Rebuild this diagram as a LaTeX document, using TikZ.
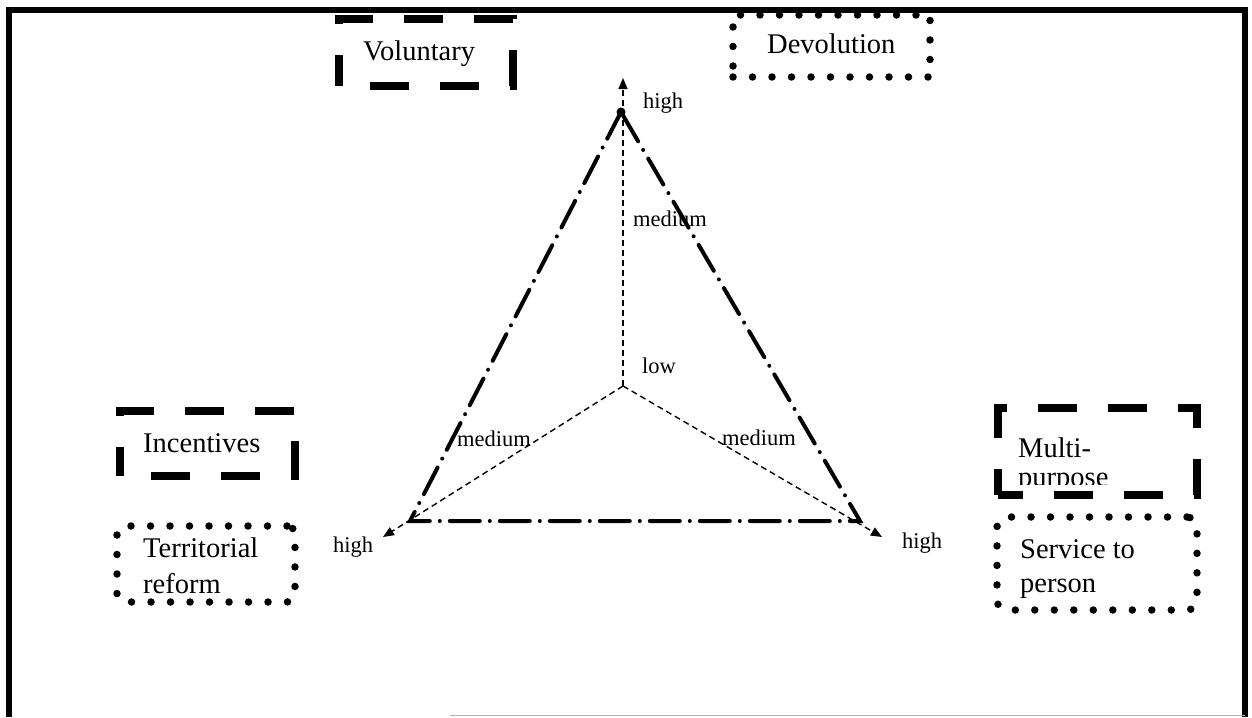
\documentclass[tikz,border=0pt]{standalone}
\usepackage{fontspec}
\setmainfont{Liberation Serif}
\usetikzlibrary{arrows.meta}
\tikzset{
  dotbox/.style={draw, line width=7.5pt, line cap=round, dash pattern=on 0pt off 19.5pt, inner sep=0pt},
  dashbox/.style={draw, line width=8pt, dash pattern=on 39pt off 31pt, dash phase=39pt, inner sep=0pt},
  tri/.style={line width=4pt, line cap=round, dash pattern=on 30pt off 10pt on 0pt off 10pt},
  axisline/.style={line width=1.4pt, dash pattern=on 6pt off 4pt, -{Triangle[length=11pt,width=9pt]}},
  bigtxt/.style={inner sep=0pt, anchor=base west, font=\rmfamily\fontsize{28.5}{36}\selectfont},
  smalltxt/.style={inner sep=0pt, anchor=base west, font=\rmfamily\fontsize{22.5}{27}\selectfont},
}
\begin{document}
\begin{tikzpicture}[x=1pt,y=-1pt]
\useasboundingbox (0,0) rectangle (1252,717);
% frame
\draw[line width=6pt] (9,717) -- (9,10) -- (1245,10) -- (1245,717);
\draw[gray!60, line width=1pt] (450,715.5) -- (1245,715.5);

% boxes
\node[dashbox, minimum width=174pt, minimum height=67pt] (volbox) at (426,52.5) {};
\node[bigtxt] (vol) at (363,60) {Voluntary};

\node[dotbox, minimum width=197pt, minimum height=62pt] (devbox) at (831.5,46) {};
\node[bigtxt] (dev) at (767,53) {Devolution};

\node[dashbox, minimum width=175pt, minimum height=65pt] (incbox) at (207.5,443.5) {};
\node[bigtxt] (inc) at (143,452) {Incentives};

\node[dotbox, rounded corners=8pt, minimum width=178pt, minimum height=76pt] (terbox) at (206,564) {};
\node[bigtxt] (ter1) at (143,557) {Territorial};
\node[bigtxt] (ter2) at (143,593) {reform};

\node[dashbox, dash phase=14pt, minimum width=199pt, minimum height=87pt] (mulbox) at (1097.5,451.5) {};
\begin{scope}
  \clip (1003,412) rectangle (1192,484);
  \node[bigtxt] (mul1) at (1018,457) {Multi-};
  \node[bigtxt] (mul2) at (1018,486) {purpose};
\end{scope}

\node[dotbox, rounded corners=10pt, minimum width=200pt, minimum height=93pt] (serbox) at (1097,563.5) {};
\node[bigtxt] (ser1) at (1020,558) {Service to};
\node[bigtxt] (ser2) at (1020,592) {person};

% axes
\coordinate (C) at (623,386);
\coordinate (T) at (621,112);
\coordinate (L) at (410,521);
\coordinate (R) at (860,521);
\coordinate (TT) at (623,78);
\coordinate (LT) at (383,537);
\coordinate (RT) at (882,537);
\draw[axisline] (C) -- (TT);
\draw[axisline] (C) -- (LT);
\draw[axisline] (C) -- (RT);

% triangle
\draw[tri] (T) -- (L) -- (R) -- cycle;
\fill (T) circle (4.5pt);

% labels
\node[smalltxt] (h1) at (643,108) {high};
\node[smalltxt] (m1) at (633,226) {medium};
\node[smalltxt] (lo) at (642,373) {low};
\node[smalltxt] (m2) at (457,446) {medium};
\node[smalltxt] (m3) at (722,445) {medium};
\node[smalltxt] (h2) at (333,552) {high};
\node[smalltxt] (h3) at (902,548) {high};
\end{tikzpicture}
\end{document}
